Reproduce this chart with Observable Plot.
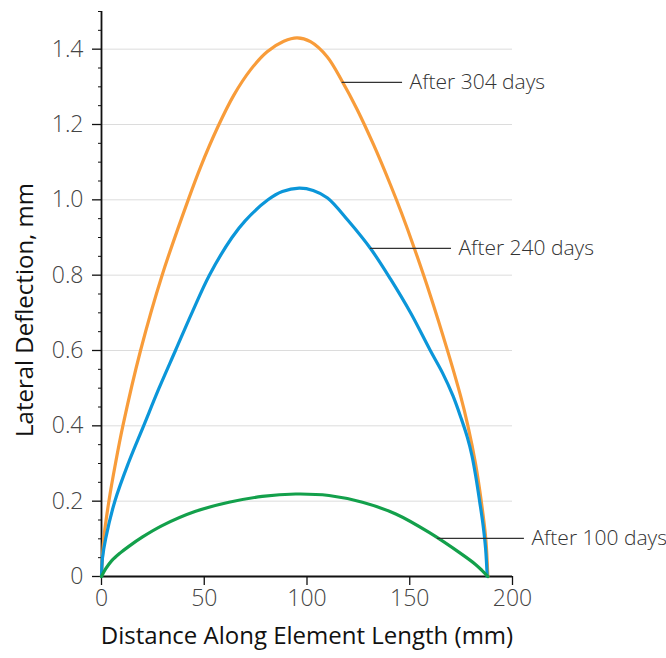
<!DOCTYPE html>
<html>
<head>
<meta charset="utf-8">
<script src="https://cdn.jsdelivr.net/npm/d3@7"></script>
<script src="https://cdn.jsdelivr.net/npm/@observablehq/plot@0.6"></script>
<style>
  body { margin: 0; background: #fff; }
  #chart svg { display: block; }
</style>
</head>
<body>
<div id="chart"></div>
<script>
// ---- Data ----
const xTicks = [0, 50, 100, 150, 200];
const yTicks = [0, 0.2, 0.4, 0.6, 0.8, 1.0, 1.2, 1.4];
const yMinorTicks = [0.05, 0.1, 0.15, 0.25, 0.3, 0.35, 0.45, 0.5, 0.55, 0.65, 0.7, 0.75,
                     0.85, 0.9, 0.95, 1.05, 1.1, 1.15, 1.25, 1.3, 1.35, 1.45, 1.5];

const seriesNames = ["After 304 days", "After 240 days", "After 100 days"];
const seriesColors = ["#f89c3a", "#0b96d9", "#13a04b"];

const x304 = [0, 1.1, 3.6, 6.8, 10.4, 19, 29.5, 42.2, 48.2, 56.3, 64.4, 72.5, 80.6, 88.7, 95.2,
              101.7, 109.8, 117.1, 124.4, 132.5, 140.6, 146, 152, 160.1, 168.2, 174.7, 178.3,
              182, 184.8, 187, 188];
const y304 = [0, 0.1, 0.2, 0.3, 0.4, 0.6, 0.8, 1.0, 1.087, 1.19, 1.278, 1.345, 1.393, 1.421, 1.43,
              1.42, 1.38, 1.315, 1.24, 1.145, 1.04, 0.965, 0.875, 0.745, 0.603, 0.48, 0.4,
              0.3, 0.2, 0.1, 0];

const x240 = [0, 0.5, 2, 6.5, 13, 20.5, 28, 36, 44, 52.5, 63.5, 70, 81, 88, 96.2,
              103, 110, 120, 131, 140.6, 150.4, 160, 166, 171, 175, 178, 180.3,
              182.3, 184, 185.6, 186.9, 187.7];
const y240 = [0, 0.05, 0.1, 0.2, 0.3, 0.4, 0.5, 0.6, 0.7, 0.8, 0.9, 0.945, 1.0, 1.022, 1.031,
              1.025, 1.005, 0.945, 0.87, 0.79, 0.70, 0.60, 0.54, 0.48, 0.42, 0.37, 0.32,
              0.26, 0.2, 0.14, 0.075, 0];

const x100 = [0, 2, 5, 9, 13.3, 20, 29.5, 45.8, 62, 78.2, 94.5, 110.7, 127, 143.2, 159.4, 175.6, 182, 185, 188];
const y100 = [0, 0.02, 0.042, 0.062, 0.08, 0.105, 0.135, 0.173, 0.197, 0.2126, 0.219, 0.215, 0.197,
              0.166, 0.117, 0.058, 0.032, 0.017, 0];

// annotation leaders (data units)
const labelY = [1.312, 0.871, 0.101];
const leaderStart = [117.1, 130.9, 163.5];
const leaderEnd = [146.5, 170.3, 205.8];

const xLabel = "Distance Along Element Length (mm)";
const yLabel = "Lateral Deflection, mm";

// ---- Build tables ----
const seriesX = [x304, x240, x100];
const seriesY = [y304, y240, y100];
const rows = [];
seriesNames.forEach((name, i) => {
  seriesX[i].forEach((x, j) => rows.push({series: name, x, y: seriesY[i][j]}));
});
const notes = seriesNames.map((name, i) => ({
  label: name, y: labelY[i], x1: leaderStart[i], x2: leaderEnd[i]
}));

const FONT = "'Open Sans', 'Noto Sans', sans-serif";

const chart = Plot.plot({
  width: 666,
  height: 658,
  marginLeft: 101,
  marginRight: 154,
  marginTop: 11,
  marginBottom: 82,
  style: {fontFamily: FONT, background: "#fff"},
  x: {domain: [0, 200], axis: null},
  y: {domain: [0, 1.5], axis: null},
  color: {domain: seriesNames, range: seriesColors},
  marks: [
    Plot.gridY(yTicks.filter(d => d > 0), {stroke: "#dcdcdc", strokeOpacity: 1, strokeWidth: 1}),
    Plot.axisX(xTicks, {
      tickSize: 9, tickPadding: 4, stroke: "#111", strokeWidth: 1.3,
      fontSize: 23, fontWeight: 300, fill: "#444", label: null,
      tickFormat: d => String(d)
    }),
    Plot.axisY(yTicks, {
      tickSize: 9, tickPadding: 9, stroke: "#111", strokeWidth: 1.3,
      fontSize: 23, fontWeight: 300, fill: "#444", label: null,
      tickFormat: d => d === 0 ? "0" : d.toFixed(1)
    }),
    Plot.axisY(yMinorTicks, {tickSize: 3, text: null, label: null, stroke: "#111", strokeWidth: 1}),
    Plot.ruleX([0], {stroke: "#111", strokeWidth: 1.8}),
    Plot.ruleY([0], {stroke: "#111", strokeWidth: 1.8}),
    Plot.line(rows, {x: "x", y: "y", z: "series", stroke: "series", strokeWidth: 3.2,
                     curve: "catmull-rom"}),
    Plot.ruleY(notes, {y: "y", x1: "x1", x2: "x2", stroke: "#333", strokeWidth: 1.3}),
    Plot.text(notes, {x: "x2", y: "y", text: "label", textAnchor: "start", dx: 7,
                      fontSize: 21, fill: "#333", fontWeight: 300}),
    Plot.text([yLabel], {frameAnchor: "left", textAnchor: "middle", rotate: -90, dx: -76, dy: 16,
                         fontSize: 24, fill: "#111", lineAnchor: "middle"}),
    Plot.text([xLabel], {frameAnchor: "bottom", textAnchor: "middle", dy: 60, fontSize: 24,
                         fill: "#111", lineAnchor: "middle"})
  ]
});

document.getElementById("chart").appendChild(chart);
</script>
</body>
</html>
